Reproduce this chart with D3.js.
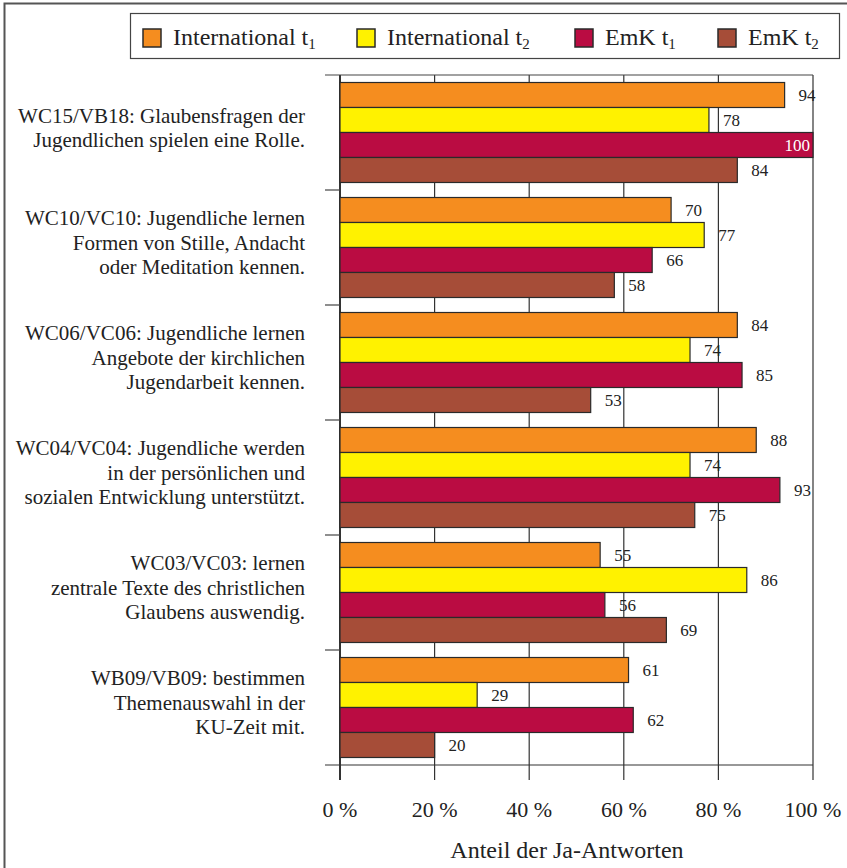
<!DOCTYPE html>
<html>
<head>
<meta charset="utf-8">
<script src="https://cdn.jsdelivr.net/npm/d3@7"></script>
<style>
  body { margin: 0; background: #fff; }
  svg text { font-family: "Liberation Serif", "DejaVu Serif", serif; fill: #222; }
</style>
</head>
<body>
<svg width="847" height="868"></svg>
<script>
// categories, top to bottom, each split into its printed lines
var categories = [
  ["WC15/VB18: Glaubensfragen der", "Jugendlichen spielen eine Rolle."],
  ["WC10/VC10: Jugendliche lernen", "Formen von Stille, Andacht", "oder Meditation kennen."],
  ["WC06/VC06: Jugendliche lernen", "Angebote der kirchlichen", "Jugendarbeit kennen."],
  ["WC04/VC04: Jugendliche werden", "in der persönlichen und", "sozialen Entwicklung unterstützt."],
  ["WC03/VC03: lernen", "zentrale Texte des christlichen", "Glaubens auswendig."],
  ["WB09/VB09: bestimmen", "Themenauswahl in der", "KU-Zeit mit."]
];
var seriesNames = [["International t", "1"], ["International t", "2"], ["EmK t", "1"], ["EmK t", "2"]];
var intT1 = [94, 70, 84, 88, 55, 61];
var intT2 = [78, 77, 74, 74, 86, 29];
var emkT1 = [100, 66, 85, 93, 56, 62];
var emkT2 = [84, 58, 53, 75, 69, 20];
var tickValues = [0, 20, 40, 60, 80, 100];
var colors = ["#f58d1f", "#fff200", "#ba0c42", "#a64d38"];

var series = [intT1, intT2, emkT1, emkT2];

var svg = d3.select("svg");
var mLeft = 340, mRight = 813, mTop = 75, mBottom = 765;

// outer frame
svg.append("rect").attr("x", 4.5).attr("y", 3.5).attr("width", 860).attr("height", 880)
  .attr("fill", "none").attr("stroke", "#555").attr("stroke-width", 2);

var x = d3.scaleLinear().domain([0, 100]).range([mLeft, mRight]);
var y = d3.scaleBand().domain(d3.range(categories.length)).range([mTop, mBottom]);
var inner = d3.scaleBand().domain(d3.range(series.length))
  .range([0, y.bandwidth()]).paddingOuter(0.3);

// gridlines
svg.append("g").selectAll("line").data(tickValues).enter().append("line")
  .attr("x1", d => x(d)).attr("x2", d => x(d))
  .attr("y1", mTop).attr("y2", mBottom + 15)
  .attr("stroke", "#333").attr("stroke-width", d => d === 0 ? 2 : 1.2);

// top line, bottom axis line and category separators
svg.append("line").attr("x1", mLeft - 15).attr("x2", mRight).attr("y1", mTop).attr("y2", mTop)
  .attr("stroke", "#444").attr("stroke-width", 1.2);
svg.append("line").attr("x1", mLeft - 15).attr("x2", mRight).attr("y1", mBottom).attr("y2", mBottom)
  .attr("stroke", "#333").attr("stroke-width", 1.2);
svg.append("g").selectAll("line").data(d3.range(1, categories.length)).enter().append("line")
  .attr("x1", mLeft - 15).attr("x2", mLeft).attr("y1", d => y(d)).attr("y2", d => y(d))
  .attr("stroke", "#444").attr("stroke-width", 1.2);

// bars
var rows = [];
categories.forEach(function (c, i) {
  series.forEach(function (s, j) { rows.push({ cat: i, ser: j, value: s[i] }); });
});

var bar = svg.append("g").selectAll("g").data(rows).enter().append("g");
bar.append("rect")
  .attr("x", mLeft)
  .attr("y", d => y(d.cat) + inner(d.ser))
  .attr("width", d => x(d.value) - mLeft)
  .attr("height", inner.bandwidth())
  .attr("fill", d => colors[d.ser])
  .attr("stroke", "#2a2a2a").attr("stroke-width", 1.2);

bar.append("text")
  .attr("x", d => d.value >= 100 ? x(d.value) - 3 : x(d.value) + 14)
  .attr("y", d => y(d.cat) + inner(d.ser) + inner.bandwidth() / 2)
  .attr("dy", "0.35em")
  .attr("text-anchor", d => d.value >= 100 ? "end" : "start")
  .style("font-size", "17px")
  .style("fill", d => d.value >= 100 ? "#fff" : "#222")
  .text(d => d.value);

// category labels
var lh = 24.5;
svg.append("g").selectAll("text").data(categories).enter().append("text")
  .attr("text-anchor", "end")
  .style("font-size", "21px")
  .each(function (lines, i) {
    var cy = y(i) + y.bandwidth() / 2 - 5;
    var y0 = cy - (lines.length - 1) * lh / 2;
    d3.select(this).selectAll("tspan").data(lines).enter().append("tspan")
      .attr("x", 305).attr("y", (d, k) => y0 + k * lh).attr("dy", "0.35em")
      .text(d => d);
  });

// tick labels
svg.append("g").selectAll("text").data(tickValues).enter().append("text")
  .attr("x", d => x(d)).attr("y", 817)
  .attr("text-anchor", "middle")
  .style("font-size", "22px")
  .text(d => d + " %");

svg.append("text").attr("x", 567).attr("y", 858)
  .attr("text-anchor", "middle").style("font-size", "24px")
  .text("Anteil der Ja-Antworten");

// legend
svg.append("rect").attr("x", 130.5).attr("y", 13.5).attr("width", 709).attr("height", 45)
  .attr("fill", "#fff").attr("stroke", "#444").attr("stroke-width", 1.2);
var legendX = [143, 357, 575, 718];
var lg = svg.append("g").selectAll("g").data(seriesNames).enter().append("g")
  .attr("transform", (d, i) => "translate(" + legendX[i] + ",29)");
lg.append("rect").attr("width", 18).attr("height", 18)
  .attr("fill", (d, i) => colors[i]).attr("stroke", "#2a2a2a").attr("stroke-width", 1.5);
var lt = lg.append("text").attr("x", 30).attr("y", 16).style("font-size", "24px");
lt.append("tspan").text(d => d[0]);
lt.append("tspan").attr("dy", 4).style("font-size", "15px").text(d => d[1]);
</script>
</body>
</html>
